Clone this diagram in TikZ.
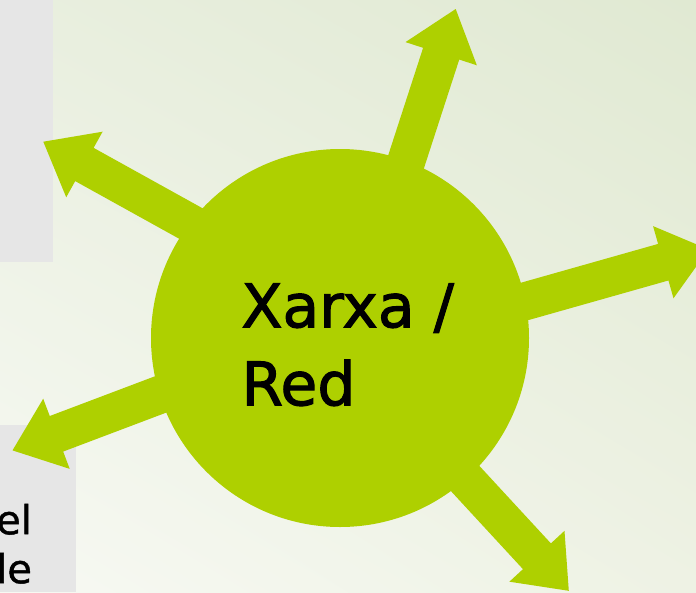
\documentclass[tikz,border=0pt]{standalone}
\usepackage{fontspec}
\setmainfont{DejaVu Sans}
\newfontfamily\hubfont[FakeBold=1.8]{DejaVu Sans}
\newfontfamily\sidefont[FakeBold=1.2]{DejaVu Sans}
\usetikzlibrary{shadings}
\definecolor{leaf}{RGB}{174,208,0}
\definecolor{panelgray}{RGB}{230,230,230}
\definecolor{bgll}{RGB}{247,249,243}
\definecolor{bgul}{RGB}{233,239,223}
\definecolor{bgur}{RGB}{224,233,210}
\definecolor{bglr}{RGB}{238,242,228}
\definecolor{ink}{RGB}{0,0,0}
% fat block arrow: tip at #1, pointing at angle #2, shaft length #3
\newcommand{\fatarrow}[3]{%
  \fill[leaf, shift={(#1)}, rotate=#2]
    (0,0) -- (-47,37.5) -- (-47,19) -- (-#3,19) -- (-#3,-19)
    -- (-47,-19) -- (-47,-37.5) -- cycle;}
\tikzset{
  hub/.style={circle, fill=leaf, minimum size=378pt, inner sep=0pt},
  hubtext/.style={font=\hubfont\fontsize{60}{78}\selectfont, text=ink, align=left, inner sep=0pt, anchor=north west},
  sidetext/.style={font=\sidefont\fontsize{40}{49}\selectfont, text=ink, align=left, inner sep=0pt, anchor=north west},
}
\begin{document}
\begin{tikzpicture}[x=1pt, y=-1pt]
  \useasboundingbox (0,0) rectangle (696,592);
  \clip (0,0) rectangle (696,592);
  % background wash
  \shade[upper left=bgul, upper right=bgur, lower left=bgll, lower right=bglr]
    (0,0) rectangle (696,592);
  % side panels
  \fill[panelgray] (0,0) rectangle (53,262);
  \fill[panelgray] (0,425) rectangle (76,592);
  \node[sidetext] (sidelabel) at (-4,503.6) {el\\le};
  % arrow tips
  \coordinate (tipN) at (455.7,9);
  \coordinate (tipW) at (43.3,141.7);
  \coordinate (tipE) at (708.5,249.4);
  \coordinate (tipSW) at (12.5,450.4);
  \coordinate (tipSE) at (568.8,590.8);
  \fatarrow{tipN}{72}{300}
  \fatarrow{tipW}{151}{320}
  \fatarrow{tipE}{15.8}{330}
  \fatarrow{tipSW}{200.7}{300}
  \fatarrow{tipSE}{-47.3}{300}
  % central hub
  \node[hub] (net) at (340,338) {};
  \node[hubtext] (netlabel) at (241.2,283.3) {Xarxa /\\Red};
\end{tikzpicture}
\end{document}
